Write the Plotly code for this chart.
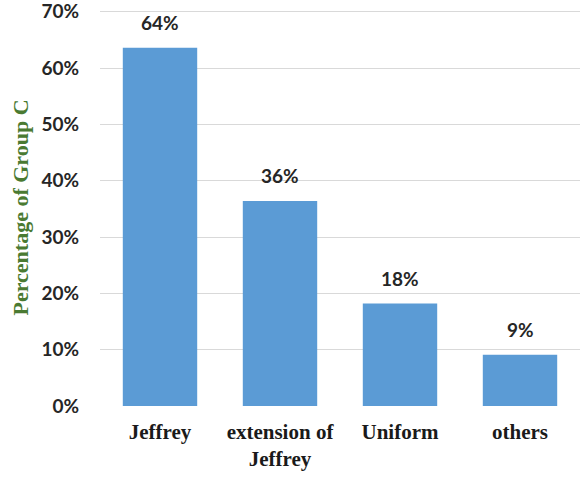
import plotly.graph_objects as go

categories = ["Jeffrey", "extension of<br>Jeffrey", "Uniform", "others"]
values = [0.636, 0.364, 0.182, 0.091]
labels = ["64%", "36%", "18%", "9%"]
tick_vals = [0, 0.1, 0.2, 0.3, 0.4, 0.5, 0.6, 0.7]
tick_text = ["0%", "10%", "20%", "30%", "40%", "50%", "60%", "70%"]

fig = go.Figure(go.Bar(
    x=categories, y=values,
    marker=dict(color="#5b9bd5", line=dict(width=0)),
    cliponaxis=False,
))

for c, v, t in zip(categories, values, labels):
    fig.add_annotation(x=c, y=v, text=t, showarrow=False, yanchor="bottom", yshift=12,
                       font=dict(family="Lato", size=19, color="#262626", weight="bold"))

fig.update_layout(
    width=584, height=480,
    margin=dict(l=100, r=4, t=9, b=74),
    plot_bgcolor="white", paper_bgcolor="white",
    bargap=0.38,
    showlegend=False,
    yaxis=dict(
        range=[0, 0.705], tickvals=tick_vals, ticktext=tick_text,
        showgrid=True, gridcolor="#d9d9d9", gridwidth=1,
        zeroline=False, showline=False, ticks="", ticklabelstandoff=20,
        ticklabeloverflow="allow", automargin=False,
        tickfont=dict(family="Lato", size=19, color="#262626", weight="bold"),
        title=dict(text="Percentage of Group C", standoff=6,
                   font=dict(family="Liberation Serif", size=22, color="#4a7a32", weight="bold")),
    ),
    xaxis=dict(
        showline=False, ticks="", showgrid=False, ticklabelstandoff=11,
        tickfont=dict(family="Liberation Serif", size=21, color="#1a1a1a", weight="bold"),
    ),
)

fig.write_html("out.html")
